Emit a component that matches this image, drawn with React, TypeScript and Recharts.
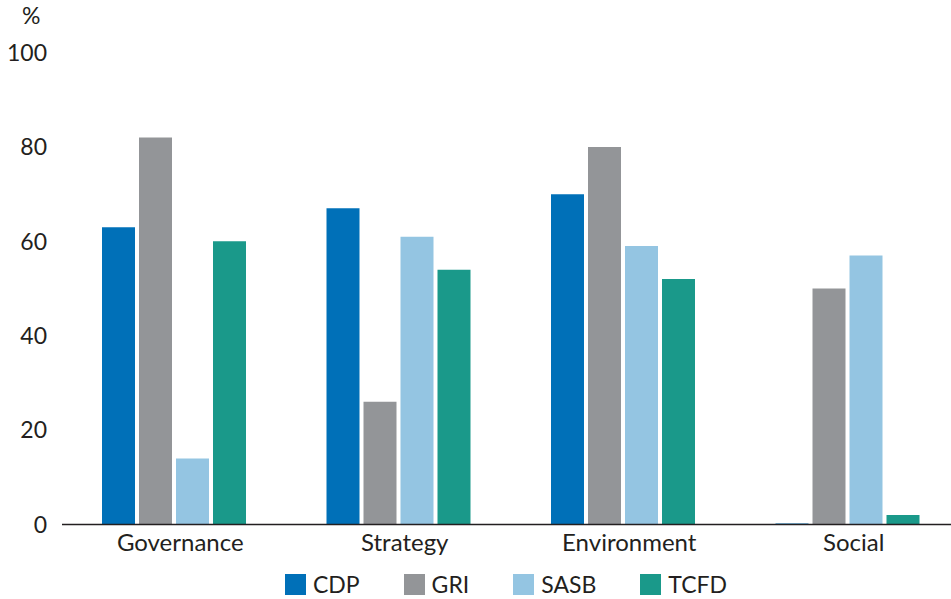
import { BarChart, Bar, XAxis, YAxis, Legend } from 'recharts';

const CATEGORIES = ['Governance', 'Strategy', 'Environment', 'Social'];
const CDP = [63, 67, 70, 0.2];
const GRI = [82, 26, 80, 50];
const SASB = [14, 61, 59, 57];
const TCFD = [60, 54, 52, 2];
const Y_TICKS = [0, 20, 40, 60, 80, 100];

const SERIES = [
  { key: 'CDP', color: '#0070b8' },
  { key: 'GRI', color: '#939598' },
  { key: 'SASB', color: '#94c5e2' },
  { key: 'TCFD', color: '#1a998a' },
];

const data = CATEGORIES.map((name, i) => ({
  name,
  CDP: CDP[i],
  GRI: GRI[i],
  SASB: SASB[i],
  TCFD: TCFD[i],
}));

const FONT = 'Lato, "Open Sans", sans-serif';
const INK = '#231f20';

function LegendContent() {
  return (
    <div style={{ display: 'flex', justifyContent: 'center', height: 40, paddingTop: 10, boxSizing: 'border-box', paddingLeft: 61 }}>
      {SERIES.map((s) => (
        <div key={s.key} style={{ display: 'flex', alignItems: 'center', margin: '0 22px' }}>
          <span style={{ width: 21, height: 21, background: s.color, display: 'inline-block', marginRight: 7 }} />
          <span style={{ fontFamily: FONT, fontSize: 23, color: INK, lineHeight: '23px' }}>{s.key}</span>
        </div>
      ))}
    </div>
  );
}

export default function App() {
  return (
    <div style={{ position: 'absolute', left: 0, top: 0, width: 951, height: 599, overflow: 'hidden', background: '#fff' }}>
      <div style={{ position: 'absolute', left: 22, top: 1, fontFamily: FONT, fontSize: 23, color: INK }}>%</div>
      <BarChart
        width={960}
        height={599}
        data={data}
        margin={{ top: 52.6, right: 0, left: 0, bottom: 0 }}
        barGap={4}
        barSize={33}
      >
        <XAxis
          dataKey="name"
          height={34.5}
          tickLine={false}
          tickSize={0}
          tickMargin={9}
          axisLine={{ stroke: INK, strokeWidth: 1.5 }}
          tick={{ fill: INK, fontSize: 24, fontFamily: FONT, dx: 6 }}
        />
        <YAxis
          width={62}
          domain={[0, 100]}
          ticks={Y_TICKS}
          axisLine={false}
          tickLine={false}
          tickSize={0}
          tickMargin={15}
          tick={{ fill: INK, fontSize: 23, fontFamily: FONT }}
        />
        <Legend verticalAlign="bottom" content={<LegendContent />} wrapperStyle={{ left: 0, width: 951 }} />
        {SERIES.map((s) => (
          <Bar key={s.key} dataKey={s.key} fill={s.color} isAnimationActive={false} />
        ))}
      </BarChart>
    </div>
  );
}
